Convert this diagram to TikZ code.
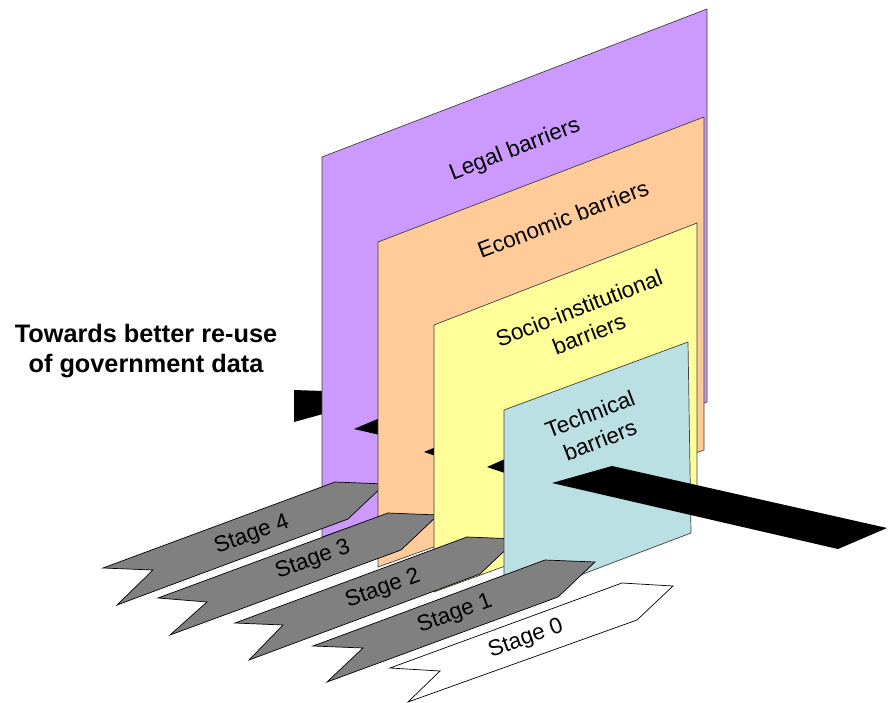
\documentclass[tikz,border=0pt]{standalone}
\usepackage{fontspec}
\setmainfont{Liberation Sans}
\definecolor{legal}{HTML}{CC99FF}
\definecolor{econ}{HTML}{FFCC99}
\definecolor{socio}{HTML}{FFFF99}
\definecolor{tech}{HTML}{BAE0E4}
\definecolor{stagegray}{HTML}{808080}
\tikzset{
  panel/.style={draw=black!75, line width=0.7pt, line join=round},
  stagearrow/.style={draw=black, fill=stagegray, line width=0.7pt, line join=miter},
  stagewhite/.style={draw=black, fill=white, line width=0.7pt, line join=miter},
  barrierlabel/.style={font=\fontsize{22.5}{28}\selectfont, align=center, rotate=21, inner sep=0pt},
  stagelabel/.style={font=\fontsize{22.5}{27}\selectfont, rotate=20, inner sep=0pt},
  shaft/.style={fill=black, draw=none}
}
\begin{document}
\begin{tikzpicture}[x=1pt,y=-1pt]
\useasboundingbox (0,0) rectangle (888,703);

% title
\node[font=\bfseries\fontsize{25.3}{30}\selectfont, align=center, inner sep=0pt] (title) at (146,351) {Towards better re-use\\of government data};

% shaft tail left of the legal panel
\fill[shaft] (294,390) -- (323,391) -- (323,414) -- (294,422) -- cycle;

% legal panel
\draw[panel, fill=legal] (322,157) -- (707,9) -- (707,402) -- (322,537) -- cycle;
\node[barrierlabel] (legal) at (515,150) {Legal barriers};

% shaft piece between legal and economic
\fill[shaft] (354,429) -- (380,418) -- (380,435) -- cycle;

% stage 4
\draw[stagearrow] (103,568) -- (335,482) -- (385,484) -- (348,519) -- (117,605) -- (153,570) -- cycle;
\node[stagelabel] (s4) at (252,535) {Stage 4};

% economic panel
\draw[panel, fill=econ] (378,242) -- (704,117) -- (704,450) -- (378,567) -- cycle;
\node[barrierlabel] (econ) at (563,219) {Economic barriers};

% shaft piece between economic and socio
\fill[shaft] (424,452) -- (436,447) -- (436,456) -- cycle;

% stage 3
\draw[stagearrow] (158,598) -- (388,513) -- (438,515) -- (401,550) -- (170,635) -- (207,602) -- cycle;
\node[stagelabel] (s3) at (313,560) {Stage 3};

% socio-institutional panel
\draw[panel, fill=socio] (434,325) -- (697,223) -- (697,496) -- (434,592) -- cycle;
\node[barrierlabel] (socio) at (584,321) {Socio-institutional\\barriers};

% shaft piece between socio and technical
\fill[shaft] (487,467) -- (505,459) -- (505,473) -- cycle;

% stage 2
\draw[stagearrow] (235,623) -- (467,537) -- (517,539) -- (480,574) -- (249,660) -- (283,625) -- cycle;
\node[stagelabel] (s2) at (383,589) {Stage 2};

% technical panel
\draw[panel, fill=tech] (504,410) -- (688,342) -- (691,533) -- (504,604) -- cycle;
\node[barrierlabel] (tech) at (595,427) {Technical\\barriers};

% front shaft
\fill[shaft] (552,483) -- (612,466) -- (887,528) -- (838,549) -- cycle;

% stage 1
\draw[stagearrow] (313,646) -- (545,560) -- (595,562) -- (558,597) -- (327,682) -- (363,648) -- cycle;
\node[stagelabel] (s1) at (455,614) {Stage 1};

% stage 0
\draw[stagewhite] (390,668) -- (622,583) -- (673,586) -- (637,620) -- (408,702) -- (440,671) -- cycle;
\node[stagelabel] (s0) at (526,639) {Stage 0};
\end{tikzpicture}
\end{document}
